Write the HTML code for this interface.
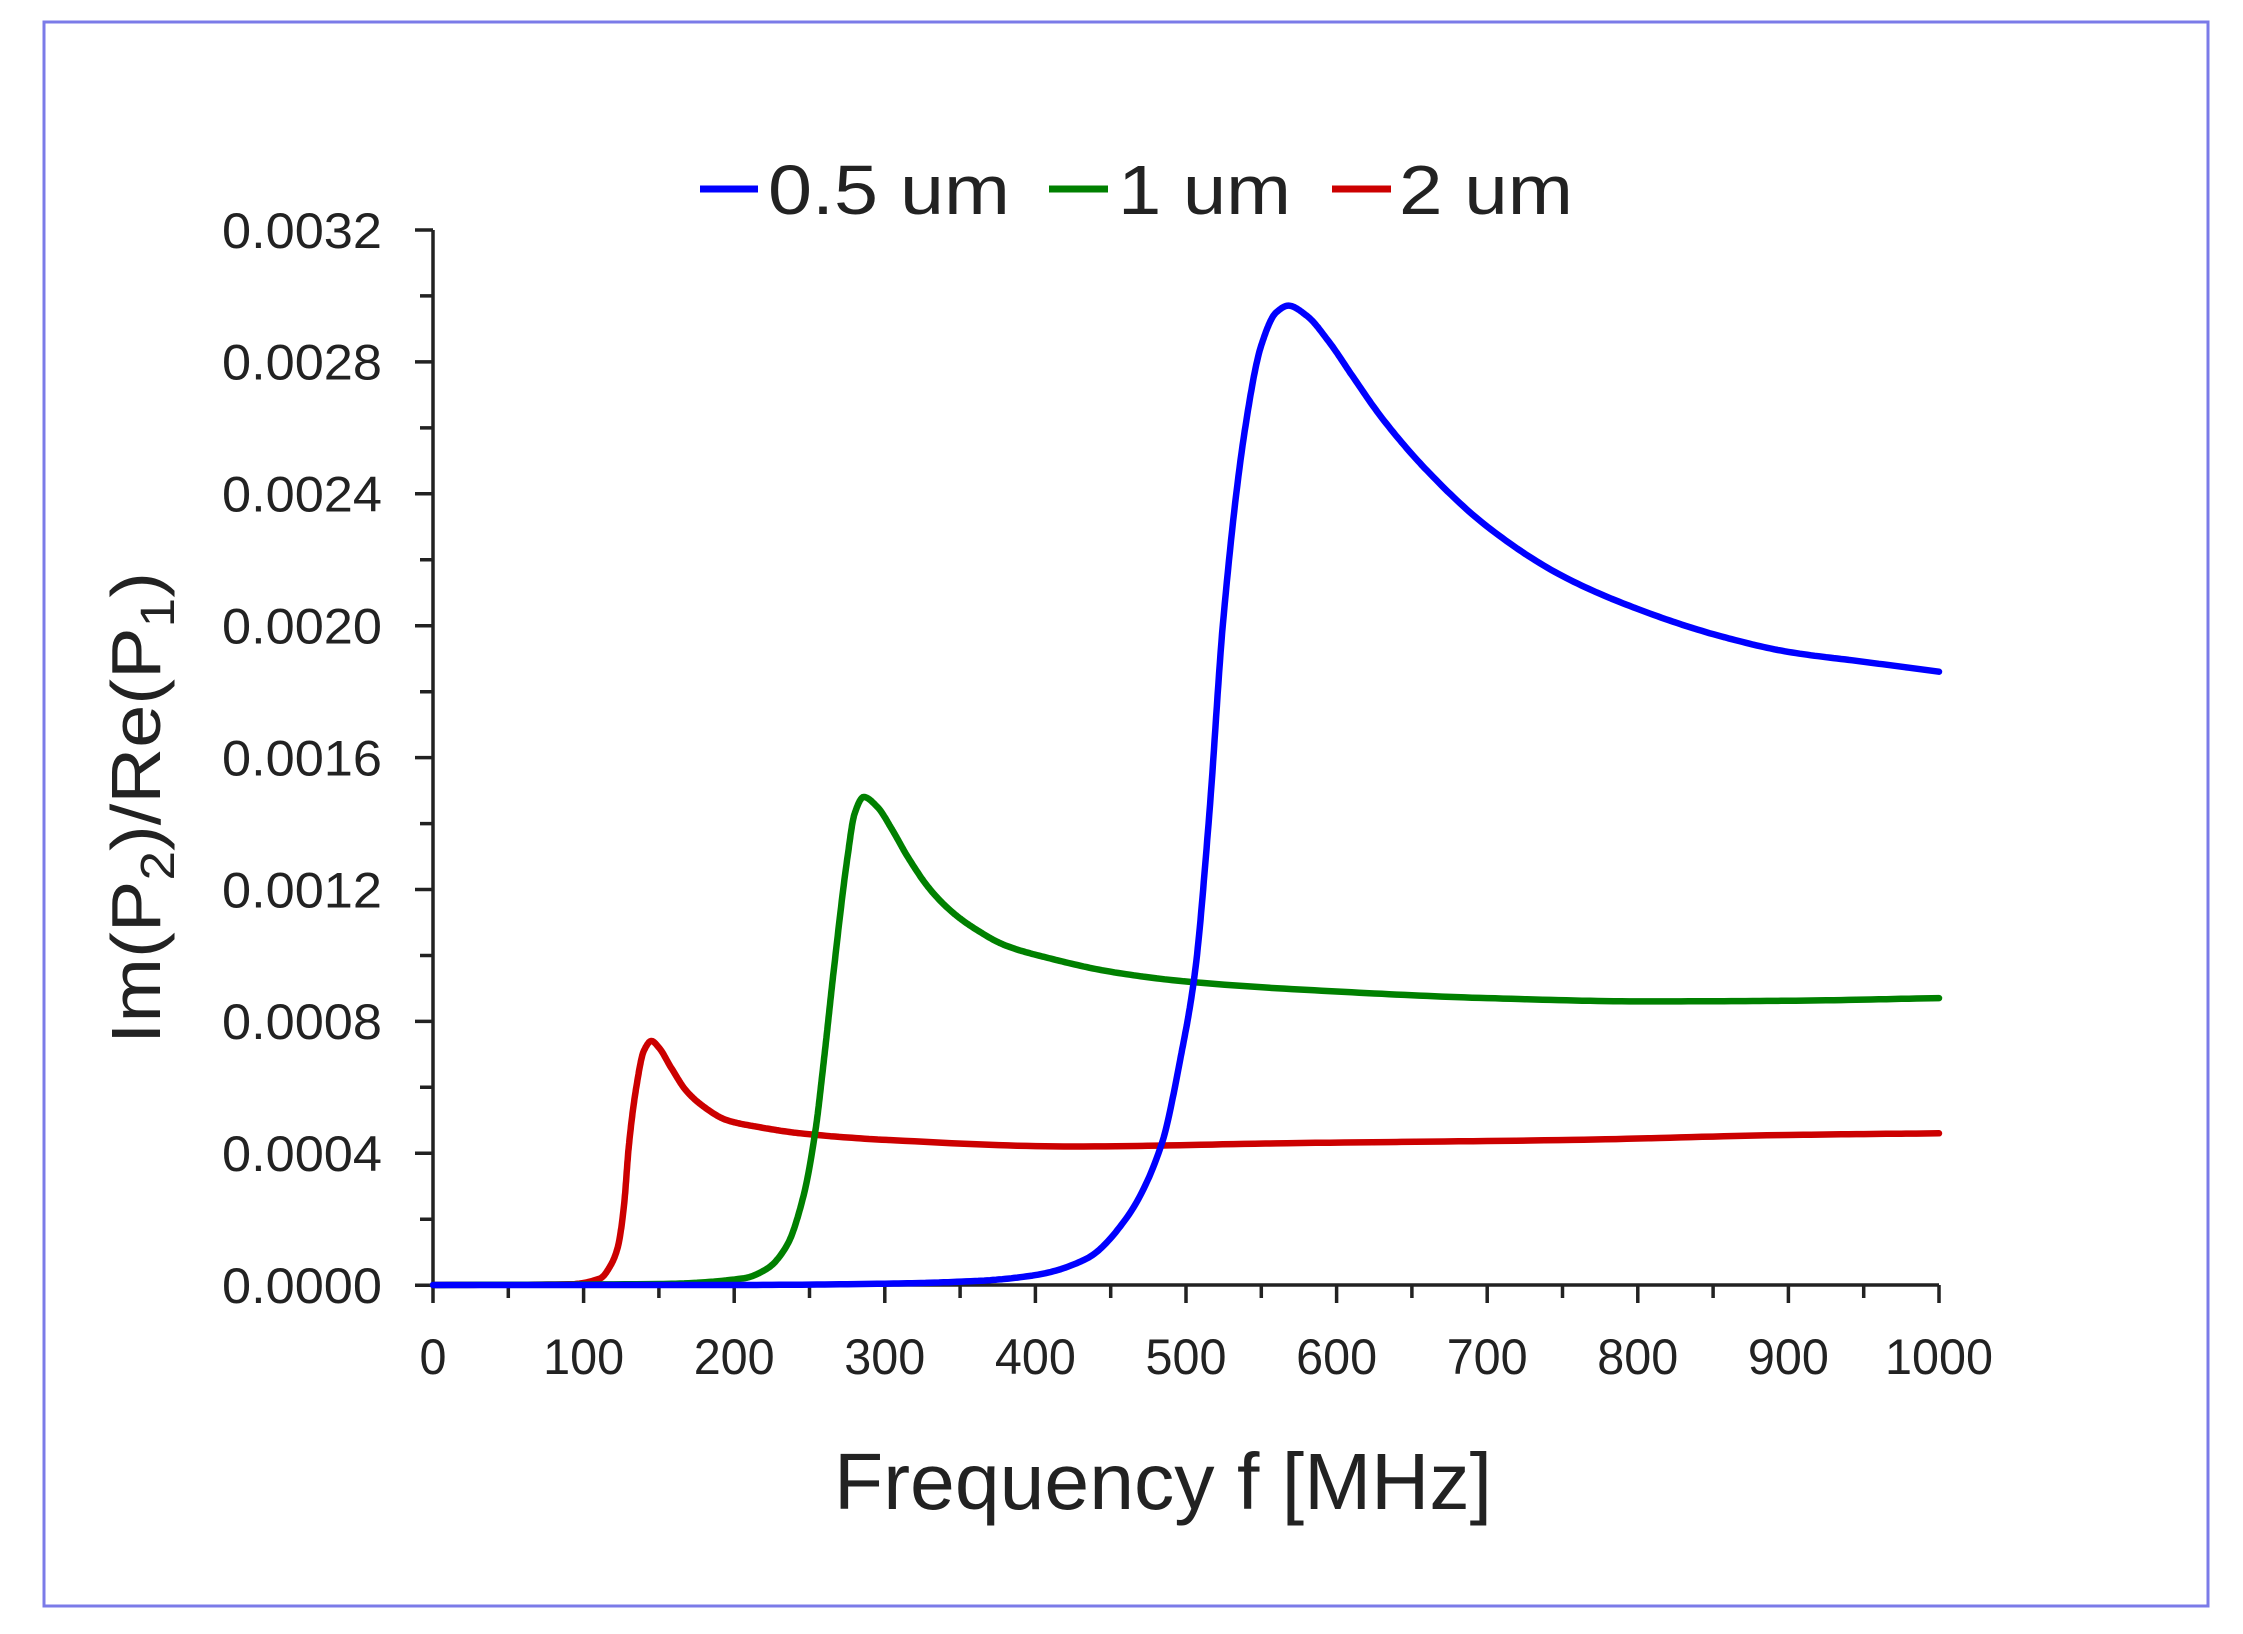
<!DOCTYPE html>
<html><head><meta charset="utf-8"><style>
html,body{margin:0;padding:0;background:#fff}
svg{display:block}
text{font-family:"Liberation Sans",sans-serif;fill:#222}
</style></head><body>
<svg id="s" width="2243" height="1634" viewBox="0 0 2243 1634" xmlns="http://www.w3.org/2000/svg">
<rect x="44" y="22" width="2164" height="1584" fill="#fff" stroke="#7b7be8" stroke-width="3"/>
<g id="axes" stroke="#222" stroke-width="3.5" fill="none"></g>
<g id="labels" font-size="50"></g>
<g id="curves" fill="none" stroke-width="6.5" stroke-linejoin="round" stroke-linecap="round"></g>
<line x1="700" y1="189" x2="758" y2="189" stroke="#0000ff" stroke-width="7"/>
<text x="768" y="214" font-size="70" textLength="242" lengthAdjust="spacingAndGlyphs">0.5 um</text>
<line x1="1049" y1="189" x2="1108" y2="189" stroke="#008000" stroke-width="7"/>
<text x="1118" y="214" font-size="70" textLength="173" lengthAdjust="spacingAndGlyphs">1 um</text>
<line x1="1332" y1="189" x2="1391" y2="189" stroke="#cc0000" stroke-width="7"/>
<text x="1399" y="214" font-size="70" textLength="174" lengthAdjust="spacingAndGlyphs">2 um</text>
<text x="1163" y="1509" font-size="80" text-anchor="middle" textLength="658" lengthAdjust="spacingAndGlyphs">Frequency f [MHz]</text>
<text transform="translate(160,808) rotate(-90)" font-size="70" text-anchor="middle" textLength="472" lengthAdjust="spacingAndGlyphs">Im(P<tspan font-size="48" dy="14">2</tspan><tspan dy="-14">)/Re(P</tspan><tspan font-size="48" dy="14">1</tspan><tspan dy="-14">)</tspan></text>
</svg>
<script>
var X=function(f){return 433+1.506*f}, Y=function(v){return 1285-v*329750};
var ns="http://www.w3.org/2000/svg";
function el(p,t,a,txt){var e=document.createElementNS(ns,t);for(var k in a)e.setAttribute(k,a[k]);if(txt!=null)e.textContent=txt;document.getElementById(p).appendChild(e);}
var d="M433,230 L433,1285 L1939,1285";
for(var i=0;i<=16;i++){var y=230+i*131.9/2;var L=(i%2==0)?18:13;d+=" M"+(433-L)+","+y.toFixed(1)+" L433,"+y.toFixed(1);}
for(var i=0;i<=20;i++){var x=433+i*75.3;var L=(i%2==0)?18:13;d+=" M"+x.toFixed(1)+",1285 L"+x.toFixed(1)+","+(1285+L);}
el("axes","path",{d:d});
var yl=["0.0000","0.0004","0.0008","0.0012","0.0016","0.0020","0.0024","0.0028","0.0032"];
for(var i=0;i<9;i++)el("labels","text",{x:382,y:(1285-i*131.9+18).toFixed(1),"text-anchor":"end",textLength:160,lengthAdjust:"spacingAndGlyphs"},yl[i]);
for(var i=0;i<=10;i++){var s=String(i*100);el("labels","text",{x:(433+i*150.6).toFixed(1),y:1374,"text-anchor":"middle",textLength:(s.length*27).toFixed(0),lengthAdjust:"spacingAndGlyphs"},s);}
function mono(pts){
 var n=pts.length,xs=pts.map(function(a){return a[0]}),ys=pts.map(function(a){return a[1]});
 var dl=[],m=[];
 for(var i=0;i<n-1;i++)dl.push((ys[i+1]-ys[i])/(xs[i+1]-xs[i]));
 m[0]=dl[0];m[n-1]=dl[n-2];
 for(var i=1;i<n-1;i++){ if(dl[i-1]*dl[i]<=0)m[i]=0; else { var w1=2*(xs[i+1]-xs[i])+(xs[i]-xs[i-1]),w2=(xs[i+1]-xs[i])+2*(xs[i]-xs[i-1]); m[i]=(w1+w2)/(w1/dl[i-1]+w2/dl[i]); } }
 var s="";
 for(var i=0;i<n-1;i++){
  var h=xs[i+1]-xs[i];
  for(var k=0;k<=20;k++){
   if(i>0&&k==0)continue;
   var t=k/20,t2=t*t,t3=t2*t;
   var v=(2*t3-3*t2+1)*ys[i]+(t3-2*t2+t)*h*m[i]+(-2*t3+3*t2)*ys[i+1]+(t3-t2)*h*m[i+1];
   var f=xs[i]+t*h;
   s+=(s?" L":"M")+X(f).toFixed(1)+","+Y(v).toFixed(1);
  }
 }
 return s;
}
var blue=[[0,0],[200,0],[300,0.000004],[360,0.000012],[400,0.00003],[434,0.00008],[460,0.0002],[484,0.00043],[496,0.00068],[506,0.00095],[515,0.0014],[525,0.00203],[539,0.00259],[550,0.00285],[560,0.00295],[568,0.00297],[580,0.00294],[595,0.00286],[610,0.00276],[630,0.00263],[660,0.00247],[700,0.0023],[750,0.00215],[800,0.00205],[853,0.00197],[900,0.00192],[950,0.00189],[1000,0.00186]];
var green=[[0,0],[150,0.000003],[206,0.00002],[222,0.00005],[235,0.00012],[246,0.00027],[254,0.00047],[260,0.0007],[266,0.00095],[275,0.00129],[280,0.00143],[286,0.00148],[295,0.00145],[305,0.00138],[315,0.0013],[330,0.0012],[345,0.00113],[360,0.00108],[380,0.00103],[410,0.00099],[450,0.00095],[501,0.00092],[600,0.00089],[700,0.00087],[805,0.00086],[900,0.000862],[1000,0.00087]];
var red=[[0,0],[90,0.000002],[111,0.00002],[118,0.00006],[123,0.00012],[127,0.00025],[130,0.00042],[135,0.0006],[140,0.00071],[145,0.00074],[150,0.00072],[158,0.00066],[168,0.00059],[180,0.00054],[195,0.0005],[215,0.00048],[244,0.00046],[301,0.00044],[425,0.00042],[567,0.00043],[757,0.00044],[900,0.000455],[1000,0.00046]];
el("curves","path",{d:mono(red),stroke:"#cc0000"});
el("curves","path",{d:mono(green),stroke:"#008000"});
el("curves","path",{d:mono(blue),stroke:"#0000ff"});
</script>
</body></html>
